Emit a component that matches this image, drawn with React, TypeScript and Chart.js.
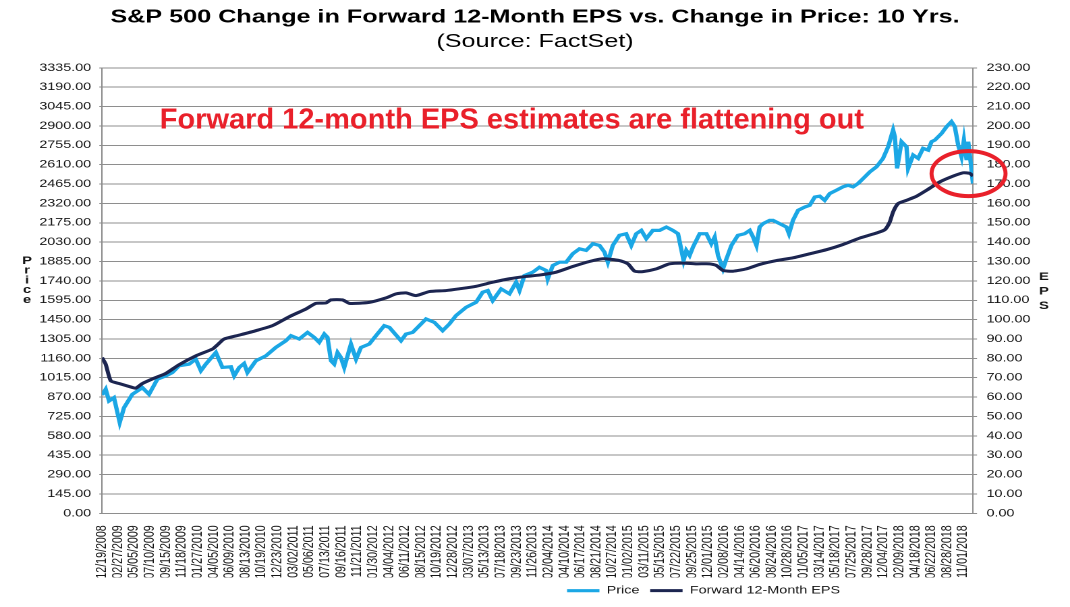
import React, { useEffect, useRef } from 'react';
import { Chart, registerables } from 'chart.js';

Chart.register(...registerables);

// ---------- data ----------
const chartTitle = 'S&P 500 Change in Forward 12-Month EPS vs. Change in Price: 10 Yrs.';
const chartSubtitle = '(Source: FactSet)';
const annotationText = 'Forward 12-month EPS estimates are flattening out';

const dateLabels = [
  '12/19/2008', '02/27/2009', '05/05/2009', '07/10/2009', '09/15/2009', '11/18/2009',
  '01/27/2010', '04/05/2010', '06/09/2010', '08/13/2010', '10/19/2010', '12/23/2010',
  '03/02/2011', '05/06/2011', '07/13/2011', '09/16/2011', '11/21/2011', '01/30/2012',
  '04/04/2012', '06/11/2012', '08/15/2012', '10/19/2012', '12/28/2012', '03/07/2013',
  '05/13/2013', '07/18/2013', '09/23/2013', '11/26/2013', '02/04/2014', '04/10/2014',
  '06/17/2014', '08/21/2014', '10/27/2014', '01/02/2015', '03/11/2015', '05/15/2015',
  '07/22/2015', '09/25/2015', '12/01/2015', '02/08/2016', '04/14/2016', '06/20/2016',
  '08/24/2016', '10/28/2016', '01/05/2017', '03/14/2017', '05/18/2017', '07/25/2017',
  '09/28/2017', '12/04/2017', '02/09/2018', '04/18/2018', '06/22/2018', '08/28/2018',
  '11/01/2018',
];

// price axis (left) and EPS axis (right)
const priceAxisMax = 3335;
const priceAxisStep = 145;
const epsAxisMax = 230;
const epsAxisStep = 10;

// positions are measured in date-label steps from 12/19/2008
const pricePos = [
  0.00, 0.23, 0.44, 0.75, 1.11, 1.38, 1.90, 2.53, 2.95, 3.47, 4.00, 4.41, 4.83, 5.46, 5.88,
  6.20, 6.51, 7.14, 7.55, 8.08, 8.29, 8.60, 8.91, 9.12, 9.65, 10.28, 10.90, 11.53, 11.85,
  12.37, 12.89, 13.31, 13.62, 13.94, 14.14, 14.36, 14.56, 14.77, 14.98, 15.19, 15.61, 15.93,
  16.24, 16.76, 17.18, 17.70, 18.02, 18.75, 19.06, 19.48, 19.90, 20.32, 20.84, 21.36, 21.78,
  22.20, 22.83, 23.46, 23.87, 24.19, 24.50, 25.03, 25.55, 25.97, 26.18, 26.49, 27.01, 27.43,
  27.85, 27.95, 28.27, 28.69, 29.11, 29.52, 29.94, 30.36, 30.78, 31.20, 31.51, 31.72, 32.03,
  32.45, 32.87, 33.19, 33.50, 33.82, 34.13, 34.54, 34.97, 35.39, 35.80, 36.12, 36.47, 36.64,
  36.85, 37.06, 37.48, 37.90, 38.21, 38.42, 38.63, 38.94, 39.16, 39.47, 39.88, 40.30, 40.62,
  40.83, 41.04, 41.24, 41.45, 41.87, 42.08, 42.50, 42.92, 43.08, 43.33, 43.65, 44.07, 44.38,
  44.70, 45.01, 45.32, 45.64, 46.06, 46.47, 46.79, 47.10, 47.41, 47.73, 48.15, 48.57, 48.98,
  49.30, 49.61, 49.72, 49.86, 50.14, 50.45, 50.55, 50.87, 51.18, 51.49, 51.81, 52.02, 52.23,
  52.65, 52.96, 53.27, 53.48, 53.69, 53.90, 54.05, 54.22, 54.32, 54.47, 54.62,
];
const priceVal = [
  886, 929, 841, 866, 680, 791, 891, 941, 891, 1004, 1029, 1054, 1104, 1117, 1154,
  1067, 1117, 1204, 1092, 1097, 1029, 1092, 1122, 1054, 1142, 1179, 1242, 1292, 1330,
  1305, 1354, 1317, 1280, 1342, 1317, 1142, 1117, 1204, 1167, 1092, 1267, 1154,
  1242, 1267, 1330, 1405, 1392, 1292, 1342, 1354, 1405, 1455, 1430, 1367, 1417,
  1480, 1542, 1580, 1655, 1668, 1592, 1680, 1643, 1730, 1668, 1780, 1805, 1842,
  1818, 1755, 1855, 1880, 1880, 1943, 1980, 1968, 2018, 2005, 1955, 1880, 2005,
  2081, 2093, 2005, 2093, 2118, 2056, 2118, 2118, 2143, 2118, 2093, 1893, 1968,
  1930, 1993, 2093, 2093, 2018, 2068, 1930, 1830, 1905, 2005, 2081, 2093, 2118,
  2068, 2005, 2143, 2168, 2193, 2193, 2168, 2143, 2093, 2193, 2268, 2293, 2306,
  2368, 2374, 2343, 2394, 2419, 2444, 2456, 2444, 2469, 2506, 2556, 2594, 2657,
  2744, 2869, 2819, 2582, 2782, 2744, 2582, 2682, 2657, 2732, 2719, 2782, 2794,
  2844, 2894, 2932, 2894, 2757, 2669, 2794, 2644, 2782, 2632, 2469,
];

const epsPos = [
  0.00, 0.23, 0.55, 1.07, 1.90, 2.12, 2.53, 3.37, 4.00, 4.83, 5.88, 6.92, 7.24, 7.66, 8.60,
  9.65, 10.69, 11.74, 12.79, 13.41, 14.04, 14.36, 15.08, 15.51, 16.76, 17.81, 18.44, 19.06,
  19.69, 20.53, 21.58, 22.41, 23.46, 24.50, 25.55, 26.60, 27.43, 28.48, 29.52, 30.57, 31.41,
  32.45, 32.98, 33.40, 33.92, 34.76, 35.59, 36.43, 37.27, 38.10, 38.52, 38.94, 39.57, 40.41,
  41.24, 42.29, 43.33, 44.38, 45.43, 46.47, 47.52, 48.57, 49.09, 49.40, 49.61, 49.92, 50.45,
  51.08, 51.71, 52.54, 53.38, 54.00, 54.42, 54.62,
];
const epsVal = [
  80.4, 77.0, 68.4, 67.0, 65.0, 64.6, 67.0, 70.1, 72.2, 76.7, 81.3, 84.8, 87.0, 90.0, 92.0,
  94.3, 96.9, 101.5, 105.5, 108.4, 108.6, 110.2, 110.2, 108.4, 108.9, 111.2, 113.3, 113.8,
  112.4, 114.5, 115.0, 115.9, 117.2, 119.3, 121.1, 122.3, 123.0, 124.5, 127.4, 130.0, 131.4,
  130.5, 128.8, 125.0, 124.8, 126.2, 128.8, 129.2, 128.8, 128.8, 128.0, 125.4, 125.0, 126.2,
  128.5, 130.5, 131.9, 134.0, 136.1, 138.8, 142.1, 144.7, 146.4, 150.4, 155.6, 159.9, 161.6,
  163.7, 166.8, 171.1, 174.1, 175.8, 175.5, 174.1,
];

// annotation anchors (data units)
const annotationAt = { pos: 25.7, price: 2941 };
const circleAt = { pos: 54.34, eps: 175.4 };

// ---------- styling ----------
const FONT = 'Arial, "Liberation Sans", sans-serif';
const CANVAS_W = 793;
const CANVAS_H = 607;
const STRETCH = 1070 / CANVAS_W; // the original picture is stretched horizontally
const PRICE_COLOR = '#1ba7e5';
const EPS_COLOR = '#1c2550';
const RED = '#e9202a';
const GRID = '#8e8e8e';
const TEXT = '#161616';
const LEGEND_CENTER = 521.4;

const overlayPlugin = {
  id: 'overlay',
  afterLayout(chart: any) {
    const lg = chart.legend;
    if (lg) {
      const dx = LEGEND_CENTER - (lg.left + lg.right) / 2;
      lg.left += dx;
      lg.right += dx;
    }
  },
  afterDraw(chart: any) {
    const { ctx, chartArea, scales } = chart;
    ctx.save();
    // stacked axis titles
    ctx.fillStyle = TEXT;
    ctx.font = `bold 11px ${FONT}`;
    ctx.textAlign = 'center';
    ctx.textBaseline = 'middle';
    'Price'.split('').forEach((ch, k) => {
      ctx.fillText(ch, chartArea.left - 55.6, chartArea.top + 193 + k * 9.8);
    });
    'EPS'.split('').forEach((ch, k) => {
      ctx.fillText(ch, chartArea.right + 52.6, chartArea.top + 209 + k * 14.5);
    });

    // annotation & circle are not stretched
    ctx.scale(1 / STRETCH, 1);
    ctx.fillStyle = RED;
    ctx.font = `bold 29px ${FONT}`;
    ctx.textAlign = 'center';
    ctx.textBaseline = 'middle';
    ctx.fillText(
      annotationText,
      scales.x.getPixelForValue(annotationAt.pos) * STRETCH,
      scales.y.getPixelForValue(annotationAt.price)
    );

    ctx.beginPath();
    ctx.ellipse(
      scales.x.getPixelForValue(circleAt.pos) * STRETCH,
      scales.y2.getPixelForValue(circleAt.eps),
      37,
      22.5,
      0,
      0,
      Math.PI * 2
    );
    ctx.lineWidth = 4;
    ctx.strokeStyle = RED;
    ctx.stroke();
    ctx.restore();
  },
};

export default function App() {
  const canvasRef = useRef<HTMLCanvasElement | null>(null);

  useEffect(() => {
    const canvas = canvasRef.current;
    if (!canvas) return;
    Chart.defaults.font.family = FONT;

    const chart = new Chart(canvas, {
      type: 'line',
      data: {
        datasets: [
          {
            label: 'Price',
            data: pricePos.map((x, i) => ({ x, y: priceVal[i] })),
            yAxisID: 'y',
            borderColor: PRICE_COLOR,
            backgroundColor: PRICE_COLOR,
            borderWidth: 3.2,
            pointRadius: 0,
            tension: 0,
            order: 2,
          },
          {
            label: 'Forward 12-Month EPS',
            data: epsPos.map((x, i) => ({ x, y: epsVal[i] })),
            yAxisID: 'y2',
            borderColor: EPS_COLOR,
            backgroundColor: EPS_COLOR,
            borderWidth: 3,
            pointRadius: 0,
            tension: 0.2,
            order: 1,
          },
        ],
      },
      options: {
        responsive: false,
        animation: false,
        devicePixelRatio: 2,
        events: [],
        layout: { padding: { top: 0, left: 0, right: 0, bottom: 1 } },
        plugins: {
          title: {
            display: true,
            text: chartTitle,
            color: '#000',
            font: { size: 18.67, weight: 'bold', family: FONT },
            padding: { top: 6, bottom: 2 },
          },
          subtitle: {
            display: true,
            text: chartSubtitle,
            color: '#000',
            font: { size: 18.67, weight: 'normal', family: FONT },
            padding: { top: 0, bottom: 15 },
          },
          legend: {
            position: 'bottom',
            labels: {
              usePointStyle: true,
              pointStyle: 'line',
              pointStyleWidth: 24,
              color: TEXT,
              font: { size: 10.67, family: FONT },
              padding: 8,
              sort: (a: any, b: any) => a.datasetIndex - b.datasetIndex,
            },
          },
          tooltip: { enabled: false },
        },
        scales: {
          x: {
            type: 'linear',
            min: 0,
            max: pricePos[pricePos.length - 1],
            afterBuildTicks: (s: any) => {
              s.ticks = dateLabels.map((_, i) => ({ value: i }));
            },
            afterFit: (s: any) => {
              s.height = 64;
            },
            ticks: {
              autoSkip: false,
              maxRotation: 90,
              minRotation: 90,
              padding: 4,
              color: TEXT,
              font: { size: 10.67, family: FONT },
              callback: (v: any) => dateLabels[Math.round(Number(v))] ?? '',
            },
            grid: { display: false },
            border: { display: true, color: GRID, width: 1 },
          },
          y: {
            position: 'left',
            min: 0,
            max: priceAxisMax,
            afterFit: (s: any) => {
              s.width = 75.6;
            },
            ticks: {
              stepSize: priceAxisStep,
              padding: 6,
              color: TEXT,
              font: { size: 10.67, family: FONT },
              callback: (v: any) => Number(v).toFixed(2),
            },
            grid: { color: GRID, lineWidth: 1, tickLength: 2 },
            border: { display: true, color: GRID, width: 1 },
          },
          y2: {
            position: 'right',
            min: 0,
            max: epsAxisMax,
            afterFit: (s: any) => {
              s.width = CANVAS_W - 721.1;
            },
            ticks: {
              stepSize: epsAxisStep,
              padding: 7,
              color: TEXT,
              font: { size: 10.67, family: FONT },
              callback: (v: any) => Number(v).toFixed(2),
            },
            grid: { drawOnChartArea: false, color: GRID, tickLength: 3 },
            border: { display: true, color: GRID, width: 1 },
          },
        },
      } as any,
      plugins: [overlayPlugin],
    });

    return () => chart.destroy();
  }, []);

  return (
    <div
      style={{
        position: 'fixed',
        left: 0,
        top: 0,
        width: 1070,
        height: 607,
        overflow: 'hidden',
        background: '#fff',
      }}
    >
      <canvas
        ref={canvasRef}
        width={CANVAS_W}
        height={CANVAS_H}
        style={{
          display: 'block',
          width: `${CANVAS_W}px`,
          height: `${CANVAS_H}px`,
          transform: `scaleX(${STRETCH})`,
          transformOrigin: '0 0',
        }}
      />
    </div>
  );
}
